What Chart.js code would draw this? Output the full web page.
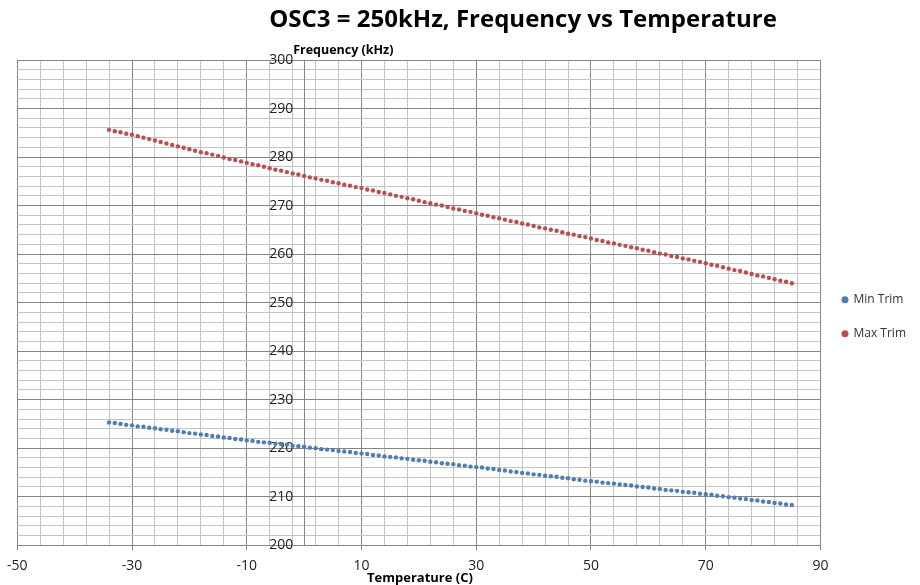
<!DOCTYPE html>
<html>
<head>
<meta charset="utf-8">
<script src="https://cdn.jsdelivr.net/npm/chart.js@4.4.1/dist/chart.umd.min.js"></script>
<style>
html, body { margin: 0; padding: 0; background: #fff; }
</style>
</head>
<body>
<canvas id="grafica" width="920" height="585"></canvas>
<script>
const tituloGrafica = "OSC3 = 250kHz, Frequency vs Temperature";
const tituloEjeY = "Frequency (kHz)";
const tituloEjeX = "Temperature (C)";

const temperaturas = [
    -34, -33, -32, -31, -30, -29, -28, -27, -26, -25, -24, -23, -22, -21, -20, -19, -18, -17, -16, -15,
    -14, -13, -12, -11, -10, -9, -8, -7, -6, -5, -4, -3, -2, -1, 0, 1, 2, 3, 4, 5,
    6, 7, 8, 9, 10, 11, 12, 13, 14, 15, 16, 17, 18, 19, 20, 21, 22, 23, 24, 25,
    26, 27, 28, 29, 30, 31, 32, 33, 34, 35, 36, 37, 38, 39, 40, 41, 42, 43, 44, 45,
    46, 47, 48, 49, 50, 51, 52, 53, 54, 55, 56, 57, 58, 59, 60, 61, 62, 63, 64, 65,
    66, 67, 68, 69, 70, 71, 72, 73, 74, 75, 76, 77, 78, 79, 80, 81, 82, 83, 84, 85
];

const minTrim = [
    225.3, 225.2, 225.0, 224.8, 224.7, 224.5, 224.4, 224.2, 224.1, 223.9, 223.8, 223.6, 223.5, 223.3, 223.1, 223.0, 222.8, 222.7, 222.5, 222.4,
    222.2, 222.1, 221.9, 221.8, 221.6, 221.5, 221.3, 221.2, 221.1, 220.9, 220.8, 220.7, 220.5, 220.4, 220.3, 220.1, 220.0, 219.8, 219.7, 219.6,
    219.4, 219.3, 219.2, 219.0, 218.9, 218.8, 218.6, 218.5, 218.3, 218.2, 218.1, 217.9, 217.8, 217.6, 217.5, 217.4, 217.2, 217.1, 216.9, 216.8,
    216.7, 216.5, 216.4, 216.2, 216.1, 216.0, 215.8, 215.7, 215.5, 215.4, 215.2, 215.1, 214.9, 214.8, 214.6, 214.5, 214.3, 214.2, 214.1, 213.9,
    213.8, 213.6, 213.5, 213.3, 213.2, 213.1, 212.9, 212.8, 212.7, 212.5, 212.4, 212.3, 212.1, 212.0, 211.9, 211.7, 211.6, 211.4, 211.3, 211.2,
    211.0, 210.9, 210.8, 210.6, 210.5, 210.4, 210.2, 210.1, 209.9, 209.8, 209.6, 209.5, 209.3, 209.2, 209.0, 208.9, 208.7, 208.6, 208.4, 208.3
];

const maxTrim = [
    285.6, 285.3, 285.1, 284.8, 284.6, 284.3, 284.0, 283.7, 283.4, 283.1, 282.8, 282.5, 282.2, 281.9, 281.6, 281.3, 281.0, 280.8, 280.5, 280.2,
    279.9, 279.6, 279.4, 279.1, 278.8, 278.5, 278.3, 278.0, 277.7, 277.4, 277.2, 276.9, 276.6, 276.4, 276.1, 275.8, 275.6, 275.3, 275.1, 274.8,
    274.6, 274.3, 274.1, 273.8, 273.6, 273.3, 273.1, 272.8, 272.6, 272.3, 272.0, 271.8, 271.5, 271.3, 271.0, 270.7, 270.5, 270.2, 270.0, 269.7,
    269.4, 269.2, 268.9, 268.7, 268.4, 268.1, 267.9, 267.6, 267.4, 267.1, 266.8, 266.6, 266.3, 266.1, 265.8, 265.5, 265.3, 265.0, 264.8, 264.5,
    264.2, 264.0, 263.7, 263.5, 263.2, 262.9, 262.7, 262.4, 262.2, 261.9, 261.7, 261.4, 261.2, 260.9, 260.7, 260.4, 260.1, 259.9, 259.6, 259.4,
    259.1, 258.9, 258.6, 258.4, 258.1, 257.8, 257.6, 257.3, 257.0, 256.7, 256.5, 256.2, 255.9, 255.6, 255.4, 255.1, 254.8, 254.5, 254.3, 254.0
];

const ticksX = [-50, -30, -10, 10, 30, 50, 70, 90];
const ticksY = [200, 210, 220, 230, 240, 250, 260, 270, 280, 290, 300];

const colorMayor = '#858585';
const colorMenor = '#c4c4c4';

function puntos(valores) {
    return temperaturas.map((t, i) => ({ x: t, y: valores[i] }));
}

// titulos dibujados a mano, al estilo Excel
const titulos = {
    id: 'titulos',
    afterDraw(chart) {
        const ctx = chart.ctx;
        const ejeCero = chart.scales.x.getPixelForValue(0);
        const area = chart.chartArea;
        ctx.save();
        ctx.fillStyle = '#000';
        ctx.textBaseline = 'middle';

        ctx.font = 'bold 24px "Open Sans"';
        ctx.textAlign = 'center';
        ctx.fillText(tituloGrafica, 523, 20);

        ctx.font = 'bold 12.5px "Open Sans"';
        ctx.textAlign = 'left';
        ctx.fillText(tituloEjeY, ejeCero - 11, area.top - 10);

        ctx.font = 'bold 13px "Open Sans"';
        ctx.fillText(tituloEjeX, 367, area.bottom + 33);
        ctx.restore();
    }
};

new Chart(document.getElementById('grafica'), {
    type: 'scatter',
    data: {
        datasets: [
            {
                label: 'Min Trim',
                data: puntos(minTrim),
                backgroundColor: '#4F7DB5',
                borderColor: '#4F7DB5',
                pointRadius: 2.2,
                pointBorderWidth: 0,
                showLine: false
            },
            {
                label: 'Max Trim',
                data: puntos(maxTrim),
                backgroundColor: '#B9504D',
                borderColor: '#B9504D',
                pointRadius: 2.2,
                pointBorderWidth: 0,
                showLine: false
            }
        ]
    },
    options: {
        responsive: false,
        animation: false,
        devicePixelRatio: 1,
        layout: { padding: { top: 60, left: 8, right: 4, bottom: 4 } },
        plugins: {
            title: { display: false },
            tooltip: { enabled: false },
            legend: {
                position: 'right',
                fullSize: false,
                title: {
                    display: true,
                    text: ' ',
                    padding: { top: 8, bottom: 6 },
                    font: { size: 12 }
                },
                labels: {
                    usePointStyle: true,
                    pointStyle: 'circle',
                    boxWidth: 5,
                    boxHeight: 5,
                    padding: 22,
                    color: '#333',
                    font: { family: '"Open Sans"', size: 12 }
                }
            }
        },
        scales: {
            x: {
                type: 'linear',
                min: -50,
                max: 90,
                border: { display: true, color: colorMayor },
                grid: {
                    color: c => ticksX.includes(c.tick.value) ? colorMayor : colorMenor,
                    tickColor: c => ticksX.includes(c.tick.value) ? colorMayor : 'rgba(0,0,0,0)',
                    tickLength: 5
                },
                ticks: {
                    stepSize: 4,
                    autoSkip: false,
                    maxRotation: 0,
                    padding: 7,
                    color: '#222',
                    font: { family: '"Open Sans"', size: 14 },
                    callback: v => ticksX.includes(v) ? String(v) : ''
                }
            },
            y: {
                type: 'linear',
                position: { x: 0 },
                min: 200,
                max: 300,
                border: { display: true, color: colorMayor },
                grid: {
                    color: c => ticksY.includes(c.tick.value) ? colorMayor : colorMenor,
                    tickColor: c => ticksY.includes(c.tick.value) ? colorMayor : 'rgba(0,0,0,0)',
                    tickLength: 5
                },
                ticks: {
                    stepSize: 2,
                    autoSkip: false,
                    color: '#222',
                    font: { family: '"Open Sans"', size: 14 },
                    // con el eje en x=0 Chart.js ignora el padding, se separa con espacios
                    callback: v => ticksY.includes(v) ? String(v) + '   ' : ''
                }
            }
        }
    },
    plugins: [titulos]
});
</script>
</body>
</html>
